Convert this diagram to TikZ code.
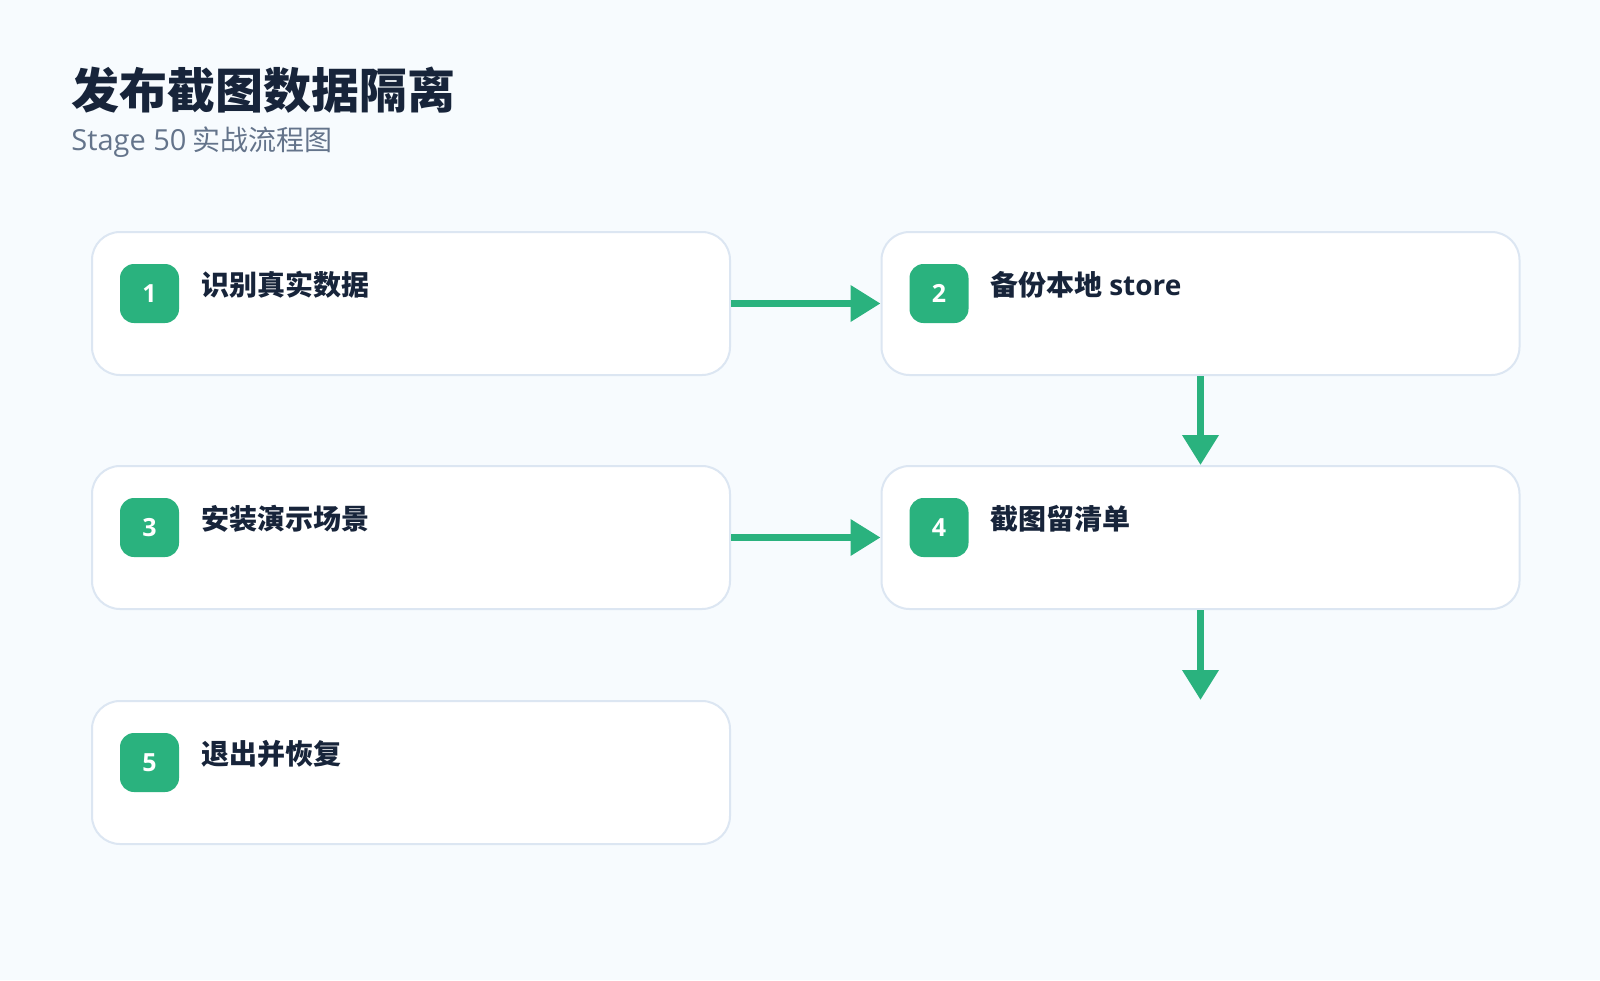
\documentclass[tikz,border=0pt]{standalone}
\usepackage{fontspec}
\setmainfont{Noto Sans CJK SC}
\newfontfamily\latinfont{Open Sans}
\usetikzlibrary{arrows.meta}
\definecolor{bgcol}{HTML}{F7FBFE}
\definecolor{boxline}{HTML}{DCE6F2}
\definecolor{stepgreen}{HTML}{2AB27E}
\definecolor{inkdark}{HTML}{17243A}
\definecolor{inkgray}{HTML}{64748B}

\begin{document}
\begin{tikzpicture}[x=0.5pt,y=-0.5pt,
    card/.style={draw=boxline,line width=1pt,fill=white,rounded corners=14pt,
      minimum width=319pt,minimum height=71.5pt,inner sep=0pt},
    badge/.style={fill=stepgreen,rounded corners=7pt,minimum size=29.5pt,inner sep=0pt,
      text=white,font=\fontsize{12.5pt}{15pt}\selectfont\latinfont\bfseries},
    steptext/.style={anchor=west,inner sep=0pt,text=inkdark,
      font=\fontsize{14pt}{17pt}\selectfont\bfseries},
    flow/.style={draw=stepgreen,line width=3.5pt,-{Triangle[length=15pt,width=17.5pt]}}]
    \fill[bgcol] (0,0) rectangle (1600,980);
    \useasboundingbox (0,0) rectangle (1600,980);
    % title
    \node[anchor=west,inner sep=0pt,text=inkdark,font=\fontsize{24pt}{28pt}\selectfont\bfseries] (title) at (71,90) {发布截图数据隔离};
    \node[anchor=west,inner sep=0pt,text=inkgray,font=\fontsize{14pt}{17pt}\selectfont] (subtitle) at (71,142) {{\latinfont\fontsize{14.5pt}{17pt}\selectfont Stage 50} 实战流程图};
    % steps
    \foreach \id/\cx/\cy/\txt in {1/411/303.5/识别真实数据, 2/1200.5/303.5/备份本地 {\latinfont store},
        3/411/537.5/安装演示场景, 4/1200.5/537.5/截图留清单, 5/411/772.5/退出并恢复} {
      \node[card] (b\id) at (\cx,\cy) {};
      \node[badge] (n\id) at (\cx-261.5,\cy-10) {\id};
      \node[steptext] (t\id) at (\cx-210,\cy-18.5) {\txt};
    }
    % arrows
    \coordinate (end) at (1200.5,700);
    \draw[flow] (b1.east) -- (b2.west);
    \draw[flow] (b2.south) -- (b4.north);
    \draw[flow] (b3.east) -- (b4.west);
    \draw[flow] (b4.south) -- (end);
  \end{tikzpicture}
\end{document}
